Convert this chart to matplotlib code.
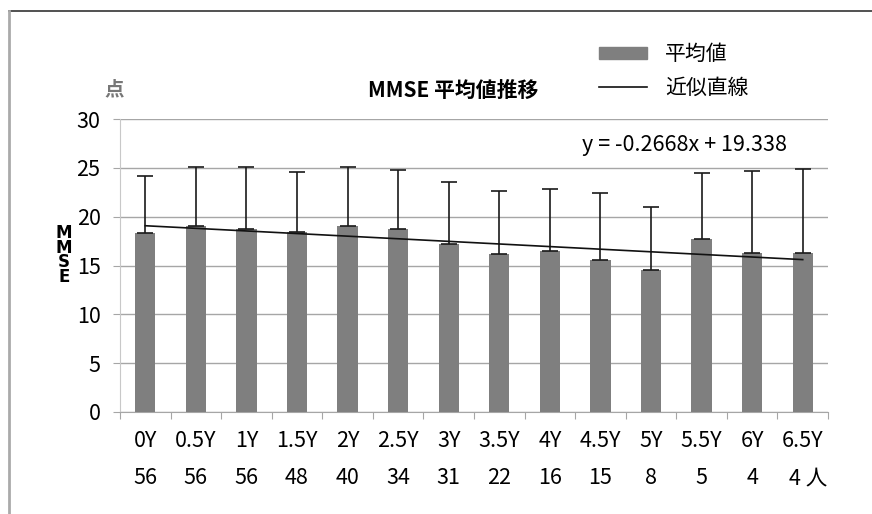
import matplotlib
matplotlib.use("Agg")
import matplotlib.pyplot as plt
from matplotlib.lines import Line2D
import numpy as np

plt.rcParams['font.family'] = ['Noto Sans CJK JP', 'DejaVu Sans']

categories = ["0Y", "0.5Y", "1Y", "1.5Y", "2Y", "2.5Y", "3Y", "3.5Y", "4Y", "4.5Y", "5Y", "5.5Y", "6Y", "6.5Y"]
counts = ["56", "56", "56", "48", "40", "34", "31", "22", "16", "15", "8", "5", "4", "4 人"]
means = [18.3, 19.0, 18.7, 18.45, 19.05, 18.7, 17.25, 16.2, 16.45, 15.6, 14.5, 17.7, 16.3, 16.3]
sd_plus = [5.85, 6.1, 6.4, 6.15, 6.05, 6.1, 6.25, 6.45, 6.35, 6.8, 6.5, 6.8, 8.4, 8.6]
slope = -0.2668
intercept = 19.338
yticks = [0, 5, 10, 15, 20, 25, 30]

W, H = 872, 514
FS = 15.5
fig = plt.figure(figsize=(W / 100, H / 100), dpi=100)
ax = fig.add_axes([120 / W, (H - 412) / H, (828 - 120) / W, (412 - 119) / H])

x = np.arange(len(categories))
bar_color = '#7f7f7f'
ax.bar(x, means, width=0.4, color=bar_color, zorder=3)
ax.errorbar(x, means, yerr=[np.zeros(len(means)), sd_plus], fmt='none',
            ecolor='#1a1a1a', elinewidth=1.2, capsize=6, capthick=1.2, zorder=4)

trend = slope * (x + 1) + intercept
ax.plot(x, trend, color='#111111', lw=1.2, zorder=5)

ax.set_xlim(-0.5, len(categories) - 0.5)
ax.set_ylim(0, 30)
ax.set_yticks(yticks)
ax.set_yticklabels([str(t) for t in yticks], fontsize=FS)
ax.yaxis.grid(True, color='#a6a6a6', lw=1.0, zorder=0)
ax.set_axisbelow(True)

for s in ['top', 'right']:
    ax.spines[s].set_visible(False)
ax.spines['left'].set_color('#c8c8c8')
ax.spines['bottom'].set_color('#a6a6a6')
ax.tick_params(axis='y', length=5, color='#a6a6a6', pad=9)

ax.set_xticks(np.arange(len(categories) + 1) - 0.5, minor=False)
ax.set_xticklabels([])
ax.tick_params(axis='x', length=5, color='#a6a6a6')

for i, (c, n) in enumerate(zip(categories, counts)):
    ax.annotate(c, xy=(i, 0), xycoords=('data', 'axes fraction'), xytext=(0, -29),
                textcoords='offset pixels', ha='center', va='center', fontsize=FS)
    off = 5 if i == len(categories) - 1 else 0
    ax.annotate(n, xy=(i, 0), xycoords=('data', 'axes fraction'), xytext=(off, -66),
                textcoords='offset pixels', ha='center', va='center', fontsize=FS)

# title and labels
fig.text(453 / W, 1 - 90 / H, "MMSE 平均値推移", ha='center', va='center',
         fontsize=15, fontweight='bold')
fig.text(114 / W, 1 - 90 / H, "点", ha='center', va='center', fontsize=14,
         color='#777777', fontweight='bold')
fig.text(64 / W, 1 - 255 / H, "M\nM\nS\nE", ha='center', va='center',
         fontsize=12, linespacing=0.78, family='DejaVu Sans', fontweight='bold')
fig.text(684 / W, 1 - 145 / H, "y = -0.2668x + 19.338", ha='center', va='center',
         fontsize=FS)

# legend
fig.patches.append(plt.Rectangle((599 / W, 1 - 59 / H), 48 / W, 12 / H,
                                 transform=fig.transFigure, color=bar_color))
fig.add_artist(Line2D([599 / W, 647 / W], [1 - 87 / H, 1 - 87 / H],
                      transform=fig.transFigure, color='#111111', lw=1.2))
fig.text(665 / W, 1 - 54 / H, "平均値", ha='left', va='center', fontsize=15)
fig.text(665 / W, 1 - 88 / H, "近似直線", ha='left', va='center', fontsize=15)

# outer border (top and left)
fig.add_artist(Line2D([9 / W, 1.0], [1 - 11 / H, 1 - 11 / H],
                      transform=fig.transFigure, color='#333333', lw=1.2))
fig.add_artist(Line2D([9 / W, 9 / W], [0, 1 - 11 / H],
                      transform=fig.transFigure, color='#aaaaaa', lw=2))

fig.savefig("out.png", dpi=100)
